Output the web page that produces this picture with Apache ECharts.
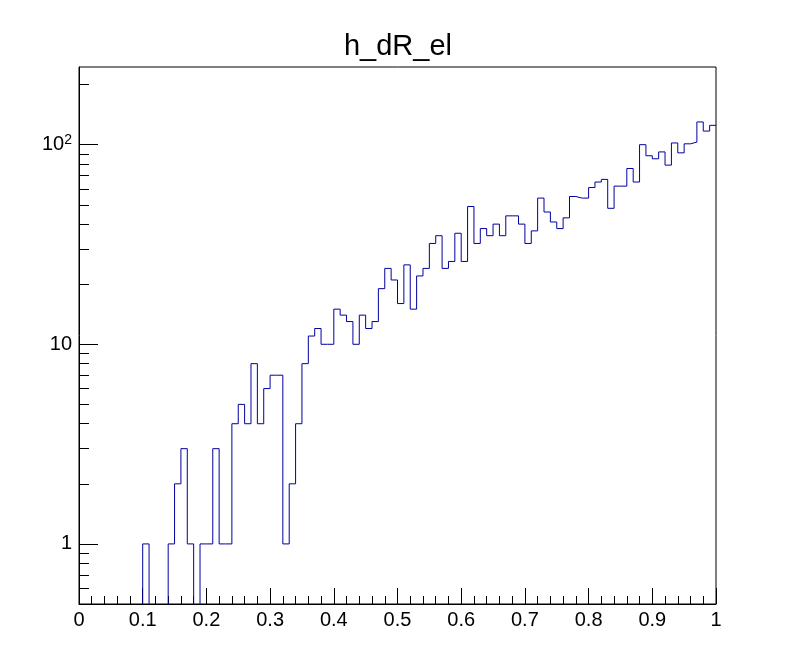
<!DOCTYPE html>
<html>
<head>
<meta charset="utf-8">
<script src="https://cdn.jsdelivr.net/npm/echarts@6/dist/echarts.min.js"></script>
<style>
html,body{margin:0;padding:0;background:#fff;}
#chart{width:796px;height:672px;}
</style>
</head>
<body>
<div id="chart"></div>
<script>
// Histogram h_dR_el : 100 bins from 0 to 1
const titleText = 'h_dR_el';
const binLow = 0;
const binHigh = 1;
const binCounts = [
  0, 0, 0, 0, 0, 0, 0, 0, 0, 0,
  1, 0, 0, 0, 1, 2, 3, 1, 0, 1,
  1, 3, 1, 1, 4, 5, 4, 8, 4, 6,
  7, 7, 1, 2, 4, 8, 11, 12, 10, 10,
  15, 14, 13, 10, 14, 12, 13, 19, 24, 21,
  16, 25, 15, 22, 24, 32, 35, 24, 26, 36,
  26, 49, 32, 38, 35, 40, 35, 44, 44, 40,
  32, 37, 54, 46, 41, 38, 43, 55, 54, 54,
  61, 65, 67, 48, 62, 62, 76, 65, 100, 88,
  85, 92, 79, 102, 91, 101, 103, 130, 117, 125
];
const xTickValues = [0, 0.1, 0.2, 0.3, 0.4, 0.5, 0.6, 0.7, 0.8, 0.9, 1];
const yMajorTicks = [1, 10, 100];
const yMinorTicks = [0.5, 0.6, 0.7, 0.8, 0.9, 2, 3, 4, 5, 6, 7, 8, 9, 20, 30, 40, 50, 60, 70, 80, 90, 200];
const yMin = 0.5;
const yMax = 245;

const nBins = binCounts.length;
const binWidth = (binHigh - binLow) / nBins;
const stepData = [];
for (let i = 0; i < nBins; i++) {
  const v = binCounts[i] > 0 ? binCounts[i] : 1e-3;
  stepData.push([binLow + i * binWidth, v]);
}
stepData.push([binHigh, binCounts[nBins - 1] > 0 ? binCounts[nBins - 1] : 1e-3]);

const FONT = "'Liberation Sans', Arial, Helvetica, sans-serif";
const chart = echarts.init(document.getElementById('chart'), null, {renderer: 'canvas'});
chart.setOption({
  animation: false,
  backgroundColor: '#fff',
  title: {
    text: titleText,
    left: 'center',
    top: 27,
    textStyle: {fontFamily: FONT, fontSize: 29, fontWeight: 'normal', color: '#000'}
  },
  grid: {
    left: 79, top: 67, width: 637, height: 537,
    show: true, borderColor: '#000', borderWidth: 1, backgroundColor: 'transparent'
  },
  xAxis: {
    type: 'value',
    min: 0, max: 1, interval: 0.1,
    axisLine: {show: true, onZero: false, lineStyle: {color: '#000', width: 1}},
    axisTick: {show: true, inside: true, length: 16, lineStyle: {color: '#000', width: 1}},
    minorTick: {show: true, splitNumber: 5, length: 8, lineStyle: {color: '#000', width: 1}},
    splitLine: {show: false},
    minorSplitLine: {show: false},
    axisLabel: {
      show: true, margin: 6, color: '#000', fontFamily: FONT, fontSize: 20,
      customValues: xTickValues,
      formatter: function (v) { return String(Math.round(v * 10) / 10); }
    }
  },
  yAxis: [
    {
      type: 'log', logBase: 10, min: yMin, max: yMax, position: 'left',
      axisLine: {show: true, onZero: false, lineStyle: {color: '#000', width: 1}},
      axisTick: {show: true, inside: true, length: 19, customValues: yMajorTicks, lineStyle: {color: '#000', width: 1}},
      splitLine: {show: false},
      axisLabel: {
        show: true, margin: 7, color: '#000', fontFamily: FONT, fontSize: 20,
        customValues: yMajorTicks,
        formatter: function (v) {
          if (Math.abs(v - 100) < 1e-6) return '{b|10}{s|2}';
          return '{b|' + Math.round(v) + '}';
        },
        rich: {
          b: {fontFamily: FONT, fontSize: 20, color: '#000'},
          s: {fontFamily: FONT, fontSize: 14, color: '#000', verticalAlign: 'bottom', padding: [0, 0, 10, 0]}
        }
      }
    },
    {
      type: 'log', logBase: 10, min: yMin, max: yMax, position: 'left',
      axisLine: {show: false},
      axisTick: {show: true, inside: true, length: 10, customValues: yMinorTicks, lineStyle: {color: '#000', width: 1}},
      splitLine: {show: false},
      axisLabel: {show: false}
    }
  ],
  series: [{
    type: 'line',
    name: titleText,
    xAxisIndex: 0,
    yAxisIndex: 0,
    step: 'end',
    data: stepData,
    showSymbol: false,
    symbol: 'none',
    clip: true,
    lineStyle: {color: '#0000a0', width: 1},
    silent: true
  }]
});
</script>
</body>
</html>
